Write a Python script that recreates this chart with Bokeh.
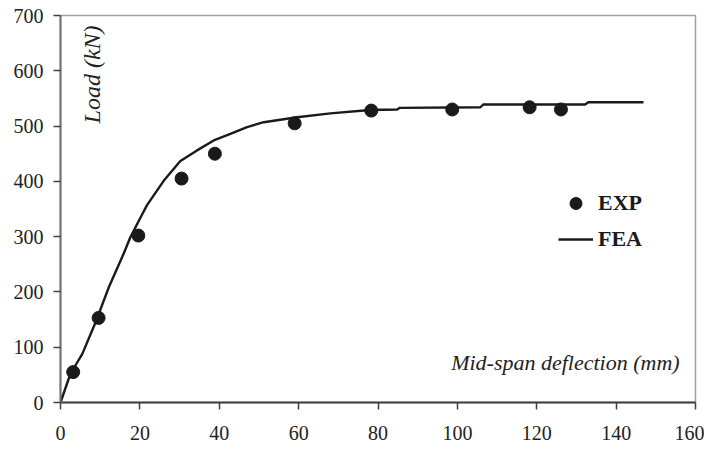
from bokeh.plotting import figure
from bokeh.models import Label, Legend, LegendItem, Range1d, FixedTicker
from bokeh.embed import file_html
from bokeh.resources import INLINE
import math

# Experimental data (EXP)
exp_x = [3.2, 9.6, 19.6, 30.5, 38.9, 59.0, 78.3, 98.7, 118.2, 126.1]
exp_y = [55, 153, 302, 405, 450, 505, 528, 530, 534, 530]

# Finite element analysis (FEA)
fea_x = [0, 2.5, 5.5, 9.0, 12.2, 15.9, 17.6, 20.2, 21.8, 26.0, 30.2, 34.4, 38.6,
         42.8, 47.0, 51.2, 59.6, 68.0, 78.0, 84.8, 85.5, 105.8, 106.5, 132.2, 133.0, 146.9]
fea_y = [0, 52, 88, 148, 209, 269, 299, 335, 357, 401, 437, 456, 474,
         486, 498, 507, 516, 523, 529, 530, 533, 534, 539, 539, 543, 543]

x_ticks = [0, 20, 40, 60, 80, 100, 120, 140, 160]
y_ticks = [0, 100, 200, 300, 400, 500, 600, 700]

FONT = "Liberation Serif"

p = figure(width=704, height=449, output_backend="svg", toolbar_location=None,
           x_range=Range1d(0, 160), y_range=Range1d(0, 700),
           min_border_left=60, min_border_right=9, min_border_top=15, min_border_bottom=47)

p.background_fill_color = "white"
p.border_fill_color = "white"
p.outline_line_color = "#a0a0a0"
p.outline_line_width = 1.5
p.xgrid.visible = False
p.ygrid.visible = False

for ax in (p.xaxis[0], p.yaxis[0]):
    ax.major_label_text_font = FONT
    ax.major_label_text_font_size = "20px"
    ax.major_label_text_color = "#222222"
    ax.minor_tick_line_color = None
    ax.major_tick_in = 0
    ax.major_tick_out = 7
    ax.axis_line_width = 2
    ax.major_tick_line_width = 1.5

p.xaxis[0].ticker = FixedTicker(ticks=x_ticks)
p.yaxis[0].ticker = FixedTicker(ticks=y_ticks)
p.xaxis[0].axis_line_color = "#404040"
p.xaxis[0].major_tick_line_color = "#404040"
p.yaxis[0].axis_line_color = "#707070"
p.yaxis[0].major_tick_line_color = "#404040"
p.xaxis[0].major_label_standoff = 16
p.yaxis[0].major_label_standoff = 10

fea = p.line(fea_x, fea_y, line_color="#1a1a1a", line_width=2.4)
exp = p.scatter(exp_x, exp_y, size=13, fill_color="#1a1a1a", line_color="#1a1a1a")

legend = Legend(items=[LegendItem(label="EXP", renderers=[exp]),
                       LegendItem(label="FEA", renderers=[fea])],
                location=(498, 148), orientation="vertical",
                glyph_width=35, glyph_height=30, label_height=30, spacing=6,
                label_standoff=5, padding=0, margin=0,
                border_line_alpha=0, background_fill_alpha=0,
                label_text_font=FONT, label_text_font_size="22px",
                label_text_font_style="bold", label_text_color="#1a1a1a")
p.add_layout(legend, "center")

p.add_layout(Label(x=8, y=682, text="Load (kN)", angle=math.pi / 2,
                   text_align="right", text_baseline="middle",
                   text_font=FONT, text_font_size="24px", text_font_style="italic",
                   text_color="#222222"))
p.add_layout(Label(x=156, y=72, text="Mid-span deflection (mm)",
                   text_align="right", text_baseline="middle",
                   text_font=FONT, text_font_size="22px", text_font_style="italic",
                   text_color="#222222"))

open("out.html", "w").write(file_html(p, INLINE))
